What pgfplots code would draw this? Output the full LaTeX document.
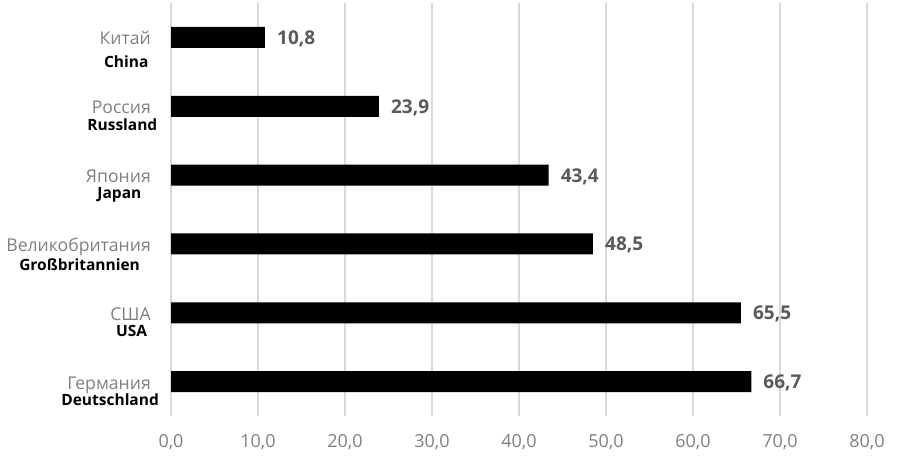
\documentclass[border=0pt]{standalone}
\usepackage{fontspec}
\setmainfont{Open Sans}
\usepackage{pgfplots}
\pgfplotsset{compat=1.18}
\definecolor{lblgray}{HTML}{808080}
\definecolor{valgray}{HTML}{595959}
\definecolor{gridgray}{HTML}{D9D9D9}
\newcommand\lab[3]{\vtop{\baselineskip=#3\lineskiplimit=-100pt\lineskip=0pt\halign{\hfil##\hfil\cr\textcolor{lblgray}{#1}\hspace{2pt}\cr\makebox[0pt]{\bfseries\fontsize{15.5}{15.5}\selectfont #2}\cr}}}
\begin{document}
\begin{tikzpicture}
\useasboundingbox (0,0) rectangle (899pt,464pt);
\begin{axis}[
  at={(171pt,48pt)}, anchor=south west,
  width=696pt, height=413pt, scale only axis,
  xbar, bar width=21pt,
  xmin=0, xmax=80, ymin=-0.5, ymax=5.5,
  xtick={0,10,...,80},
  ytick={0,1,2,3,4,5},
  yticklabels={{\lab{Германия}{Deutschland}{16.5pt}},{\lab{США}{USA}{16pt}},{\lab{Великобритания}{Großbritannien}{19.5pt}},{\lab{Япония}{Japan}{16pt}},{\lab{Россия}{Russland}{17pt}},{\lab{Китай}{China}{23pt}}},
  axis line style={draw=none},
  major tick length=0pt,
  xmajorgrids, grid style={gridgray, line width=1.3pt},
  clip=false,
  xticklabel style={anchor=base, yshift=-31pt, inner sep=0pt, text=lblgray, font=\fontsize{18}{20}\selectfont,
    /pgf/number format/fixed, /pgf/number format/fixed zerofill, /pgf/number format/precision=1, /pgf/number format/use comma, /pgf/number format/assume math mode=true},
  yticklabel style={anchor=base east, inner sep=0pt, xshift=-18pt, yshift=-7.5pt, font=\fontsize{17.6}{23}\selectfont},
  nodes near coords,
  nodes near coords style={anchor=base west, inner sep=0pt, xshift=12pt, yshift=-7pt, text=valgray, font=\bfseries\fontsize{19}{21}\selectfont,
    /pgf/number format/fixed, /pgf/number format/fixed zerofill, /pgf/number format/precision=1, /pgf/number format/use comma, /pgf/number format/assume math mode=true},
]
\addplot[fill=black, draw=none] coordinates {(66.7,0) (65.5,1) (48.5,2) (43.4,3) (23.9,4) (10.8,5)};
\end{axis}
\end{tikzpicture}
\end{document}
